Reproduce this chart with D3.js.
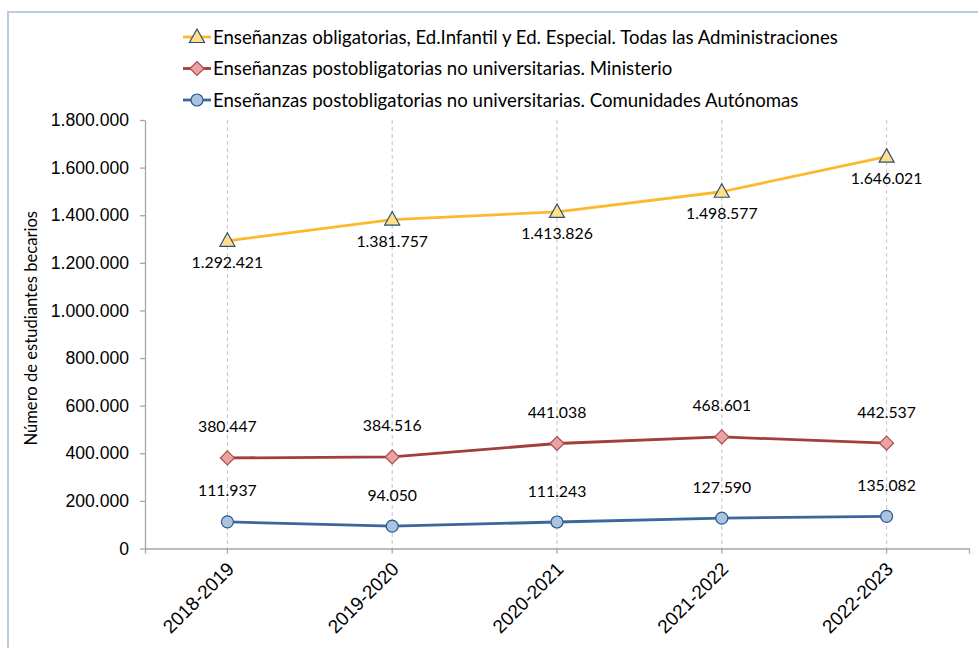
<!DOCTYPE html>
<html>
<head>
<meta charset="utf-8">
<script src="https://cdn.jsdelivr.net/npm/d3@7"></script>
<style>
  html, body { margin: 0; padding: 0; background: #ffffff; }
  svg { display: block; font-family: Lato, "Open Sans", sans-serif; }
</style>
</head>
<body>
<svg id="chart" width="978" height="648"></svg>
<script>
// Academic years on the category axis
const years = ["2018-2019", "2019-2020", "2020-2021", "2021-2022", "2022-2023"];

// Number of scholarship students per group and year
const obligatorias = [1292421, 1381757, 1413826, 1498577, 1646021];
const postMinisterio = [380447, 384516, 441038, 468601, 442537];
const postCCAA = [111937, 94050, 111243, 127590, 135082];

// Value axis ticks
const yTicks = [0, 200000, 400000, 600000, 800000, 1000000, 1200000, 1400000, 1600000, 1800000];

const seriesNames = [
  "Enseñanzas obligatorias, Ed.Infantil y Ed. Especial. Todas las Administraciones",
  "Enseñanzas postobligatorias no universitarias. Ministerio",
  "Enseñanzas postobligatorias no universitarias. Comunidades Autónomas"
];

const series = [
  { name: seriesNames[0], values: obligatorias, line: "#fdb92d", fill: "#fedf8a", stroke: "#2f4f75", marker: "triangle", labelPos: "below" },
  { name: seriesNames[1], values: postMinisterio, line: "#a13f3c", fill: "#e8a4a2", stroke: "#b04c4a", marker: "diamond", labelPos: "above" },
  { name: seriesNames[2], values: postCCAA, line: "#3a679c", fill: "#a9c3e0", stroke: "#2d5888", marker: "circle", labelPos: "above" }
];

const fmt = v => d3.format(",")(v).replace(/,/g, ".");

const svg = d3.select("#chart");

// Chart frame (left and top edges)
svg.append("path")
  .attr("d", "M8,648 L8,12 L978,12")
  .attr("fill", "none")
  .attr("stroke", "#bccbe0")
  .attr("stroke-width", 2);

const plot = { left: 145, right: 969, top: 120, bottom: 548.5 };

const x = d3.scaleBand().domain(years).range([plot.left, plot.right]);
const y = d3.scaleLinear().domain([0, 1800000]).range([plot.bottom, plot.top]);
const cx = d => x(d) + x.bandwidth() / 2;

// Vertical dashed gridlines at each category
svg.append("g")
  .selectAll("line")
  .data(years)
  .join("line")
  .attr("x1", cx).attr("x2", cx)
  .attr("y1", plot.top).attr("y2", plot.bottom)
  .attr("stroke", "#c4c4c4")
  .attr("stroke-width", 1)
  .attr("stroke-dasharray", "4,3");

// Value axis
const yAxis = svg.append("g")
  .attr("transform", `translate(${plot.left},0)`)
  .call(d3.axisLeft(y).tickValues(yTicks).tickFormat(fmt).tickSize(5).tickSizeOuter(0).tickPadding(11));
yAxis.select(".domain").attr("stroke", "#a6a6a6").attr("stroke-width", 1.3);
yAxis.selectAll(".tick line").attr("stroke", "#a6a6a6").attr("stroke-width", 1.3);
yAxis.selectAll(".tick text")
  .attr("fill", "#000")
  .style("font-size", "17.6px");

// Category axis
const xAxis = svg.append("g")
  .attr("transform", `translate(0,${plot.bottom})`)
  .call(d3.axisBottom(x).tickSize(5).tickSizeOuter(5));
xAxis.select(".domain").attr("stroke", "#a6a6a6").attr("stroke-width", 1.3);
xAxis.selectAll(".tick line").attr("stroke", "#a6a6a6").attr("stroke-width", 1.3);
xAxis.selectAll(".tick text")
  .attr("fill", "#000")
  .style("font-size", "19px")
  .attr("text-anchor", "end")
  .attr("x", 0).attr("y", 0)
  .attr("dy", "0.35em")
  .attr("transform", "translate(3,17) rotate(-45)");

// Axis title
svg.append("text")
  .attr("transform", `translate(37,${(plot.top + plot.bottom) / 2 - 6}) rotate(-90)`)
  .attr("text-anchor", "middle")
  .style("font-size", "16.6px")
  .attr("fill", "#000")
  .text("Número de estudiantes becarios");

// Marker shapes
function markerPath(kind) {
  if (kind === "triangle") return "M0,-8 L7.5,5.5 L-7.5,5.5 Z";
  if (kind === "diamond") return "M0,-7 L7,0 L0,7 L-7,0 Z";
  return null;
}

function drawMarker(g, s, px, py) {
  if (s.marker === "circle") {
    g.append("circle").attr("cx", px).attr("cy", py).attr("r", 6)
      .attr("fill", s.fill).attr("stroke", s.stroke).attr("stroke-width", 1.2);
  } else {
    g.append("path").attr("d", markerPath(s.marker))
      .attr("transform", `translate(${px},${py})`)
      .attr("fill", s.fill).attr("stroke", s.stroke).attr("stroke-width", 1.2);
  }
}

const line = d3.line().x(d => cx(d.year)).y(d => y(d.value));

series.forEach(s => {
  const pts = years.map((yr, i) => ({ year: yr, value: s.values[i] }));
  const g = svg.append("g");
  g.append("path")
    .attr("d", line(pts))
    .attr("fill", "none")
    .attr("stroke", s.line)
    .attr("stroke-width", 2.8)
    .attr("stroke-linejoin", "round");
  pts.forEach(p => drawMarker(g, s, cx(p.year), y(p.value)));
  g.selectAll("text.lbl")
    .data(pts)
    .join("text")
    .attr("class", "lbl")
    .attr("x", d => cx(d.year))
    .attr("y", d => y(d.value) + (s.labelPos === "below" ? 22 : -31))
    .attr("dy", "0.35em")
    .attr("text-anchor", "middle")
    .style("font-size", "15.8px")
    .attr("fill", "#000")
    .text(d => fmt(d.value));
});

// Legend
const legend = svg.append("g");
series.forEach((s, i) => {
  const ly = 37 + i * 31.5;
  const row = legend.append("g");
  row.append("line")
    .attr("x1", 183).attr("x2", 211)
    .attr("y1", ly).attr("y2", ly)
    .attr("stroke", s.line).attr("stroke-width", 2.8);
  drawMarker(row, s, 197, ly);
  row.append("text")
    .attr("x", 213).attr("y", ly)
    .attr("dy", "0.35em")
    .style("font-size", "18.6px")
    .attr("fill", "#000")
    .text(s.name);
});
</script>
</body>
</html>
